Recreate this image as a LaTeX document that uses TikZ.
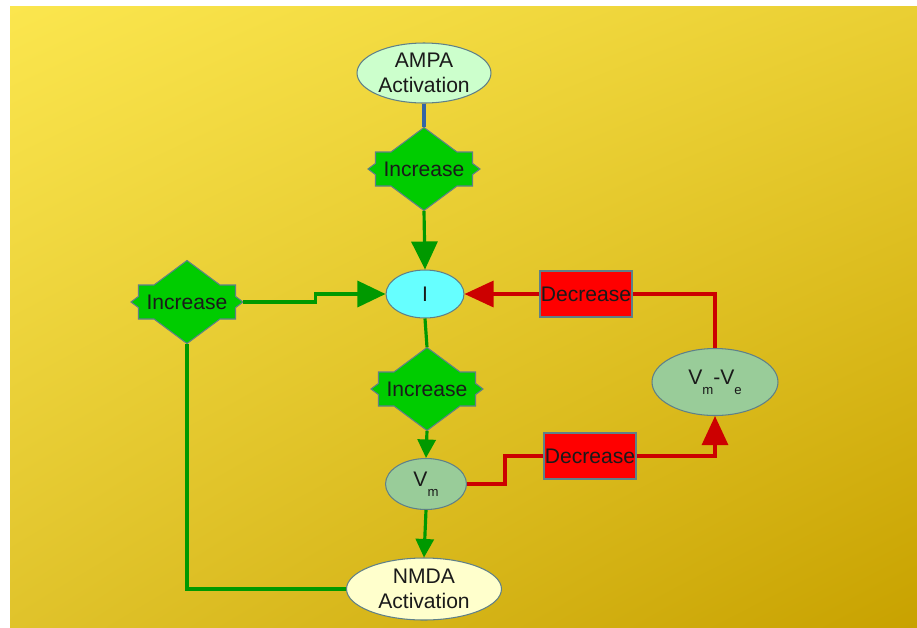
\documentclass[tikz,border=0pt]{standalone}
\usepackage{fontspec}
\setmainfont{Liberation Sans}
\usetikzlibrary{arrows.meta,calc,positioning,shapes.geometric,shadings}
\definecolor{bgA}{HTML}{FBE64E}
\definecolor{bgB}{HTML}{EACF33}
\definecolor{bgC}{HTML}{E0C32B}
\definecolor{bgD}{HTML}{C8A200}
\definecolor{g}{HTML}{00CC00}
\definecolor{G}{HTML}{009900}
\definecolor{r}{HTML}{FF0000}
\definecolor{R}{HTML}{CC0000}
\definecolor{bl}{HTML}{3465A4}
\definecolor{edge}{HTML}{5F8088}
\definecolor{txt}{HTML}{1A1A1A}
\definecolor{cyanI}{HTML}{66FFFF}
\definecolor{ampaF}{HTML}{CCFFCC}
\definecolor{vmF}{HTML}{99CC99}
\definecolor{nmdaF}{HTML}{FFFFCC}
\pgfdeclarelayer{bg}
\pgfsetlayers{bg,main}
\newcommand\lowsub[1]{\raisebox{-5.5pt}{\fontsize{7.5}{8}\selectfont #1}}

\begin{document}
\begin{tikzpicture}[x=0.02cm,y=-0.02cm,
  font=\fontsize{12}{14}\selectfont,text=txt,
  oval/.style={ellipse,draw=edge,line width=0.6pt,inner sep=0pt,align=center},
  incnode/.style={diamond,aspect=1.35,inner sep=0pt,minimum width=2.24cm,minimum height=1.66cm},
  incshape/.style={fill=g,draw=edge,line width=0.6pt,line join=miter},
  decbox/.style={rectangle,fill=r,draw=edge,line width=0.6pt,minimum width=1.84cm,minimum height=0.92cm,inner sep=0pt},
  gline/.style={draw=G,line width=1.8pt},
  rline/.style={draw=R,line width=1.8pt},
  garrow/.style={gline,-{Triangle[length=0.56cm,width=0.52cm]}},
  gsmall/.style={gline,-{Triangle[length=0.37cm,width=0.36cm]}},
  rarrow/.style={rline,-{Triangle[length=0.58cm,width=0.52cm]}}]
  \useasboundingbox (0,0) rectangle (917,627);
  \begin{pgfonlayer}{bg}
    \fill[white] (0,0) rectangle (917,627);
    \shade[upper left=bgA,upper right=bgB,lower left=bgC,lower right=bgD] (10,6) rectangle (917,627);
  \end{pgfonlayer}
  % nodes
  \node[oval,fill=ampaF,minimum width=2.68cm,minimum height=1.2cm] (ampa) at (424,73) {AMPA\\Activation};
  \node[incnode] (inc1) at (424,169) {Increase};
  \node[oval,fill=cyanI,minimum width=1.56cm,minimum height=0.96cm] (I) at (425,294) {I};
  \node[incnode] (inc2) at (187,302) {Increase};
  \node[incnode] (inc3) at (427,389) {Increase};
  \node[oval,fill=vmF,minimum width=1.62cm,minimum height=1.02cm] (vm) at (426,484) {V\lowsub{m}};
  \node[oval,fill=nmdaF,minimum width=3.1cm,minimum height=1.24cm] (nmda) at (424,589) {NMDA\\Activation};
  \node[oval,fill=vmF,minimum width=2.52cm,minimum height=1.34cm] (vmve) at (715,382) {V\lowsub{m}-V\lowsub{e}};
  \node[decbox] (dec1) at (586,294) {Decrease};
  \node[decbox] (dec2) at (590,456) {Decrease};
  % outline of the Increase shapes
  \begin{pgfonlayer}{bg}
    \foreach \n in {inc1,inc2,inc3}
      \draw[incshape,shift={(\n.center)}] (0,-41.5) -- (33,-17) -- (48.5,-17) -- (48.5,-5.6)
        -- (56,0) -- (48.5,5.6) -- (48.5,17) -- (33,17) -- (0,41.5) -- (-33,17) -- (-48.5,17)
        -- (-48.5,5.6) -- (-56,0) -- (-48.5,-5.6) -- (-48.5,-17) -- (-33,-17) -- cycle;
  \end{pgfonlayer}
  % connectors
  \draw[draw=bl,line width=1.8pt] (ampa.south) -- (inc1.north);
  \draw[garrow] (inc1.south) -- (I.north);
  \draw[garrow] (inc2.east) -- ++(72,0) |- (I.west);
  \draw[gline] (I.south) -- (inc3.north);
  \draw[gsmall] (inc3.south) -- (vm.north);
  \draw[gsmall] (vm.south) -- (nmda.north);
  \draw[gline] (nmda.west) -| (inc2.south);
  \draw[rline] (vm.east) -- ++(38,0) |- (dec2.west);
  \draw[rarrow] (dec2.east) -| (vmve.south);
  \draw[rline] (vmve.north) |- (dec1.east);
  \draw[rarrow] (dec1.west) -- (I.east);
\end{tikzpicture}
\end{document}
